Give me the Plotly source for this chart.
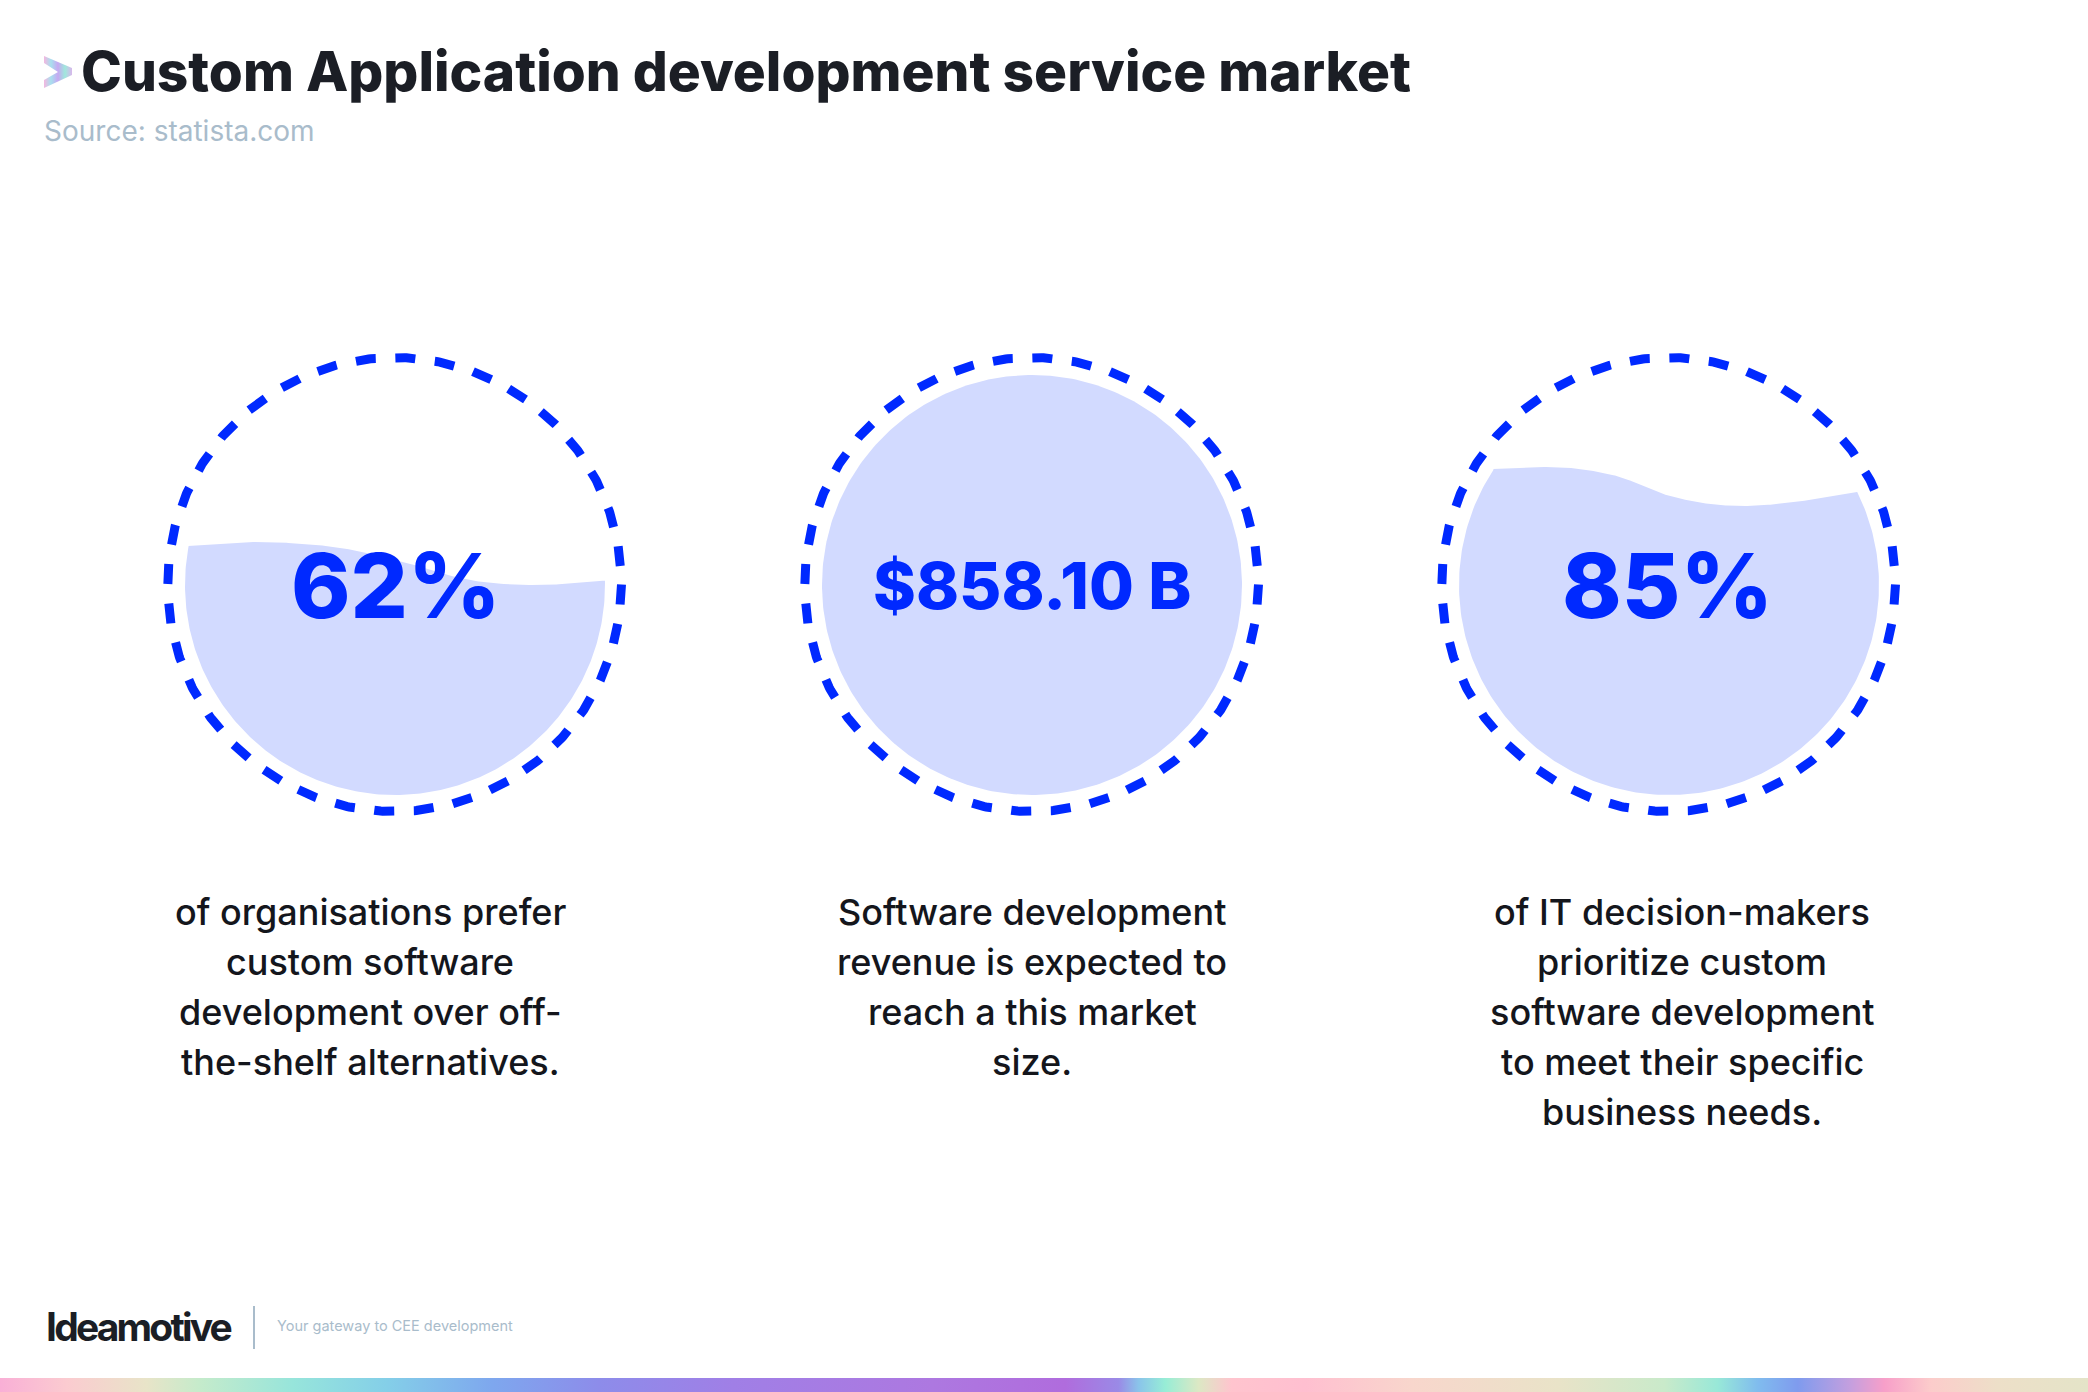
import numpy as np
import plotly.graph_objects as go

title = "Custom Application development service market"
source = "Source: statista.com"
brand = "Ideamotive"
tagline = "Your gateway to CEE development"

stat_labels = ["62%", "$858.10 B", "85%"]
descriptions = [
    ["of organisations prefer", "custom software", "development over off-", "the-shelf alternatives."],
    ["Software development", "revenue is expected to", "reach a this market", "size."],
    ["of IT decision-makers", "prioritize custom", "software development", "to meet their specific", "business needs."],
]

# water line of each gauge, offsets from the circle centre (None = full circle)
wave_dx = [
    [-207, -145, -105, -68, -28, 12, 45, 78, 145, 210],
    None,
    [-176, -132, -89, -49, -9, 34, 68, 118, 188],
]
wave_dy = [
    [-39, -43, -42, -39, -32, -22, -12, -4.5, 0, -4.5],
    None,
    [-116, -118, -116, -108, -92, -82, -79, -82, -93],
]

bar_stops = [0, 50, 110, 150, 220, 290, 370, 450, 550, 700, 800, 840, 855, 875, 900, 925, 980,
             1060, 1170, 1250, 1290, 1320, 1350, 1390, 1415, 1450, 1500, 1568]
bar_colors = ["#F9AFD6", "#FBCBD0", "#E8E4C8", "#C5EBCB", "#97E5DB", "#84CFE8", "#7EA7EE", "#8D8CEA",
              "#A07FE6", "#AD78E0", "#B06CDD", "#9A8AE6", "#8AC4EA", "#97EDD6", "#DCE8C4", "#FFC4CE",
              "#FFBFD0", "#F8D6CC", "#E9E3C8", "#C9EACA", "#98E8D8", "#80BCEE", "#7F9BEE", "#C59FDE",
              "#F79FC9", "#FCCCCB", "#EDDFC8", "#E4E4C8"]

W, H = 2088, 1392
FONT = "Inter"
BLUE = "#0029FF"
PALE = "#D2DAFF"
DARK = "#1B1E25"
GREY = "#A9BCCB"

centers = [395, 1032, 1669]
CY = 585
R_FILL = 210
R_RING = 227


def smooth(xs, ys, n=24):
    # cubic hermite through the knots, tangents from the neighbours
    xs = np.array(xs, dtype=float)
    ys = np.array(ys, dtype=float)
    m = np.gradient(ys, xs)
    px, py = [], []
    for i in range(len(xs) - 1):
        h = xs[i + 1] - xs[i]
        t = np.linspace(0, 1, n, endpoint=False)
        px.append(xs[i] + h * t)
        py.append((2 * t ** 3 - 3 * t ** 2 + 1) * ys[i] + (t ** 3 - 2 * t ** 2 + t) * h * m[i]
                  + (-2 * t ** 3 + 3 * t ** 2) * ys[i + 1] + (t ** 3 - t ** 2) * h * m[i + 1])
    px.append(xs[-1:])
    py.append(ys[-1:])
    return np.concatenate(px), np.concatenate(py)


fig = go.Figure()

for cx, dx, dy in zip(centers, wave_dx, wave_dy):
    if dx is None:
        a = np.linspace(0, 2 * np.pi, 361)
        fx = cx + R_FILL * np.cos(a)
        fy = CY + R_FILL * np.sin(a)
    else:
        top_x, top_y = smooth(dx, dy)
        a0 = np.arctan2(dy[-1], dx[-1])
        a1 = np.arctan2(dy[0], dx[0]) + 2 * np.pi
        a = np.linspace(a0, a1, 240)
        fx = cx + np.concatenate([top_x, R_FILL * np.cos(a)])
        fy = CY + np.concatenate([top_y, R_FILL * np.sin(a)])
    fig.add_trace(go.Scatter(x=fx, y=fy, mode="lines", fill="toself", fillcolor=PALE,
                             line=dict(width=0), hoverinfo="skip", showlegend=False))

    # ring starts at 3 o'clock and runs clockwise, 36 dashes all round
    a = np.linspace(0, 2 * np.pi, 721)
    period = 2 * np.pi * R_RING / 36
    fig.add_trace(go.Scatter(x=cx - 0.5 + R_RING * np.cos(a), y=CY - 0.5 + R_RING * np.sin(a), mode="lines",
                             line=dict(color=BLUE, width=9, dash=f"20px,{period - 20:.2f}px"),
                             hoverinfo="skip", showlegend=False))

# small logo chevron
fig.add_trace(go.Scatter(x=[44, 72, 72, 44, 44, 58, 44, 44], y=[56, 68, 75, 88, 80, 72, 63, 56],
                         mode="lines", fill="toself", line=dict(width=0),
                         fillgradient=dict(type="horizontal",
                                           colorscale=[[0, "#F4B7E0"], [0.25, "#A8E0EE"], [0.5, "#C6A8F2"],
                                                       [0.75, "#9FE8DC"], [1, "#D9B7EC"]]),
                         hoverinfo="skip", showlegend=False))

# rainbow strip along the bottom
fig.add_trace(go.Scatter(x=[0, W, W, 0, 0], y=[1378, 1378, H, H, 1378], mode="lines", fill="toself",
                         line=dict(width=0),
                         fillgradient=dict(type="horizontal",
                                           colorscale=[[s / bar_stops[-1], c] for s, c in zip(bar_stops, bar_colors)]),
                         hoverinfo="skip", showlegend=False))

annotations = [
    dict(x=79, y=71, text=title, xanchor="left",
         font=dict(family=FONT, size=55, color=DARK, weight=800)),
    dict(x=41.5, y=131, text=source, xanchor="left", font=dict(family=FONT, size=28, color=GREY)),
    dict(x=29.5, y=1326, text=brand, xanchor="left", font=dict(family=FONT, size=39, color=DARK, weight=700)),
    dict(x=274.5, y=1326, text=tagline, xanchor="left", font=dict(family=FONT, size=14.5, color=GREY)),
]

stat_sizes = [90, 65, 90]
stat_x = [396, 1032, 1667]
for x, label, size in zip(stat_x, stat_labels, stat_sizes):
    annotations.append(dict(x=x, y=CY, text=label,
                            font=dict(family=FONT, size=size, color=BLUE, weight=800)))

desc_x = [370, 1032, 1682]
for x, lines in zip(desc_x, descriptions):
    for i, line in enumerate(lines):
        annotations.append(dict(x=x, y=912 + 50 * i, text=line,
                                font=dict(family=FONT, size=36, color="#14161C", weight=500)))

for a in annotations:
    a.update(xref="x", yref="y", showarrow=False)

fig.update_layout(
    width=W, height=H,
    margin=dict(l=0, r=0, t=0, b=0),
    paper_bgcolor="white", plot_bgcolor="white",
    showlegend=False,
    xaxis=dict(range=[0, W], visible=False, fixedrange=True),
    yaxis=dict(range=[H, 0], visible=False, fixedrange=True),
    annotations=annotations,
    shapes=[dict(type="line", xref="x", yref="y", x0=254, x1=254, y0=1306, y1=1349,
                 line=dict(color=GREY, width=2))],
)

# no page margin, and the tight tracking of the wordmark
post = """
document.body.style.margin = '0';
document.querySelectorAll('.annotation-text').forEach(function (t) {
    if (t.textContent === '%s') { t.style.letterSpacing = '-2.8px'; }
});
""" % brand

fig.write_html("out.html", config={"displayModeBar": False}, post_script=post)
